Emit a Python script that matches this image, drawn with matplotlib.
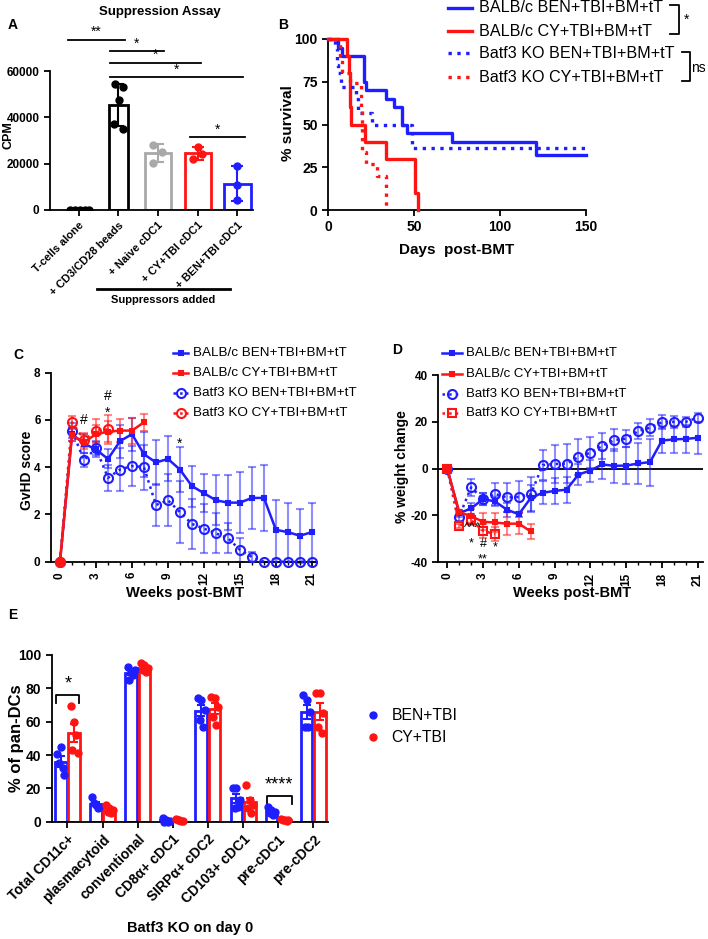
import numpy as np
import matplotlib
matplotlib.use('Agg')
import matplotlib.pyplot as plt
from matplotlib.lines import Line2D

plt.rcParams['font.family'] = ['Liberation Sans', 'DejaVu Sans']
plt.rcParams['font.weight'] = 'bold'
plt.rcParams['axes.unicode_minus'] = False
plt.rcParams['axes.linewidth'] = 1.3
plt.rcParams['xtick.major.width'] = 1.3
plt.rcParams['ytick.major.width'] = 1.3
plt.rcParams['xtick.major.size'] = 4
plt.rcParams['ytick.major.size'] = 4

BLUE = '#1e1eff'
RED = '#ff1414'
GRAY = '#a9a9a9'

# A: suppression assay (mean +/- SD)
supp_labels = ['T-cells alone', '+ CD3/CD28 beads', '+ Naive cDC1',
               '+ CY+TBI cDC1', '+ BEN+TBI cDC1']
supp_cpm = [[180, 150, 120, 160, 140],
            [54500, 53000, 47500, 37000, 35000],
            [28000, 25200, 20500],
            [27200, 24000, 22000],
            [19000, 11000, 4200]]

# B: survival (Kaplan-Meier steps)
days_balbc_ben = [0, 6, 8, 21, 22, 33.5, 38.5, 43, 46, 72, 121, 150]
surv_balbc_ben = [100, 95, 90, 75, 70, 65, 60, 50, 45, 40, 32, 32]
days_balbc_cy = [0, 11, 12, 13, 13.6, 21.4, 34, 50.6, 52.6]
surv_balbc_cy = [100, 90, 80, 60, 50, 40, 30, 10, 0]
days_batf3_ben = [0, 4.3, 5, 6, 7.4, 16, 17.5, 25.7, 49, 150]
surv_batf3_ben = [100, 95, 85, 80, 72, 65, 57, 50, 36, 36]
days_batf3_cy = [0, 7, 8, 13, 19, 19.5, 20, 22, 28.6, 34]
surv_batf3_cy = [100, 90, 80, 74, 60, 47, 34, 27, 20, 0]

# C: GvHD score (mean +/- SEM)
weeks = list(range(22))
gvhd_balbc_ben = [0, 5.4, 5.0, 4.75, 4.35, 5.1, 5.4, 4.55, 4.2, 4.35, 3.9, 3.2,
                  2.9, 2.6, 2.5, 2.5, 2.7, 2.7, 1.35, 1.25, 1.1, 1.25]
gvhd_balbc_ben_err = [0, 0.3, 0.4, 0.3, 0.4, 0.7, 0.7, 0.95, 0.95, 0.95, 0.97, 0.87,
                      0.8, 1.05, 1.15, 1.3, 1.3, 1.4, 1.25, 1.25, 1.15, 1.25]
gvhd_batf3_ben = [0, 5.55, 4.3, 4.8, 3.55, 3.9, 4.05, 4.0, 2.4, 2.6, 2.1, 1.6,
                  1.4, 1.2, 1.0, 0.5, 0.2, 0, 0, 0, 0, 0]
gvhd_batf3_ben_err = [0, 0.3, 0.3, 0.3, 0.55, 0.9, 0.85, 0.95, 0.9, 1.1, 1.3, 1.05,
                      1.05, 0.85, 0.65, 0.5, 0.2, 0, 0, 0, 0, 0]
gvhd_balbc_cy = [0, 5.35, 5.05, 5.4, 5.5, 5.55, 5.55, 5.9]
gvhd_balbc_cy_err = [0, 0.25, 0.3, 0.4, 0.45, 0.5, 0.55, 0.35]
gvhd_batf3_cy = [0, 5.9, 5.15, 5.55, 5.6]
gvhd_batf3_cy_err = [0, 0.25, 0.3, 0.5, 0.6]

# D: % weight change (mean +/- SEM)
wt_balbc_ben = [0, -19, -17, -13, -14, -17.5, -19.5, -12.5, -10.3, -9.5, -9, -2.5,
                -0.8, 1.8, 1.2, 1.3, 2.2, 2.8, 12, 12.5, 12.7, 13.2]
wt_balbc_ben_err = [0, 1.5, 2.5, 2.5, 2, 3, 1, 5.5, 5, 5.5, 5.5, 4.6,
                    4.7, 6.3, 7.2, 7.8, 8.7, 10, 5.5, 5.7, 6, 6.9]
wt_batf3_ben = [0, -20.5, -8, -13, -10.8, -12.3, -12.1, -11, 1.5, 2, 2.1, 5,
                6.8, 9.7, 12.2, 12.8, 16, 17.5, 19.8, 20, 20, 21.8]
wt_batf3_ben_err = [0, 2, 3.5, 2.5, 4.8, 6.3, 7, 7.5, 6.5, 8, 8.4, 7.5,
                    6.7, 5.5, 4.8, 3.7, 3.5, 3.5, 3, 2.5, 2, 1.9]
wt_balbc_cy = [0, -18.5, -20.3, -22.7, -23, -23.5, -23.5, -26.8]
wt_balbc_cy_err = [0, 1, 3, 3.7, 4, 5, 4.5, 3.3]
wt_batf3_cy = [0, -24.5, -22, -26.5, -28]
wt_batf3_cy_err = [0, 1, 2, 3, 3]

# E: DC subsets in Batf3 KO on day 0 (mean +/- SEM)
dc_subsets = ['Total CD11c+', 'plasmacytoid', 'conventional', 'CD8α+ cDC1',
              'SIRPα+ cDC2', 'CD103+ cDC1', 'pre-cDC1', 'pre-cDC2']
ben_tbi_pct = [[40.5, 45, 28, 35, 32], [15, 10, 9, 11, 8], [93, 90, 91, 85, 88],
               [2.5, 1, 0.5, 0, 0], [74.5, 73, 67, 61, 57], [20.5, 20.5, 13, 8, 9],
               [9, 7, 6, 5, 4], [76, 73, 66, 57, 57]]
cy_tbi_pct = [[69.5, 60, 41, 43, 52], [10, 8, 7, 6, 5], [95, 94, 92, 91, 90],
              [1.5, 1, 0.5, 0.8, 0.2], [75, 74, 69, 63, 58], [22, 13, 10, 8, 5],
              [1.5, 1, 0.8, 1.2, 0.5], [77.5, 77.5, 65, 57, 53]]

legend_series = ['BALB/c BEN+TBI+BM+tT', 'BALB/c CY+TBI+BM+tT',
                 'Batf3 KO BEN+TBI+BM+tT', 'Batf3 KO CY+TBI+BM+tT']

W, H = 708, 939
fig = plt.figure(figsize=(W / 100, H / 100), dpi=100)


def fx(px):
    return px / W


def fy(py):
    return 1 - py / H


def add_ax(x0, y0, x1, y1):
    return fig.add_axes([fx(x0), fy(y1), (x1 - x0) / W, (y1 - y0) / H])


def ftext(x, y, s, **kw):
    kw.setdefault('ha', 'center')
    kw.setdefault('va', 'center')
    return fig.text(fx(x), fy(y), s, **kw)


def fline(xs, ys, **kw):
    kw.setdefault('color', 'black')
    kw.setdefault('lw', 1.3)
    fig.add_artist(Line2D([fx(v) for v in xs], [fy(v) for v in ys], **kw))


def clean(ax, size):
    ax.spines['top'].set_visible(False)
    ax.spines['right'].set_visible(False)
    ax.tick_params(labelsize=size, direction='out')


# ---------------- A
axA = add_ax(50, 71, 253, 210)
supp_colors = ['black', 'black', GRAY, RED, BLUE]
bar_w = [0.6, 0.48, 0.68, 0.66, 0.68]
dot_off = [[-0.23, -0.1, 0.02, 0.15, 0.25], [-0.1, 0.12, 0.01, -0.11, 0.12],
           [-0.13, 0.1, -0.13], [0.0, 0.1, -0.12], [0, 0, 0]]
for i, pts in enumerate(supp_cpm):
    m = np.mean(pts)
    sd = np.std(pts, ddof=1)
    c = supp_colors[i]
    axA.bar(i, m, width=bar_w[i], facecolor='white', edgecolor=c, lw=2, zorder=2)
    axA.errorbar(i, m, yerr=sd, fmt='none', ecolor=c, elinewidth=1.5,
                 capsize=4, capthick=1.5, zorder=3)
    axA.plot(i + np.array(dot_off[i]), pts, 'o', color=c, ms=5, zorder=4)
axA.set_xlim(-0.73, 4.4)
axA.set_ylim(0, 60000)
axA.set_yticks([0, 20000, 40000, 60000])
axA.set_xticks(range(len(supp_labels)))
axA.set_xticklabels(supp_labels, rotation=45, ha='right', rotation_mode='anchor')
clean(axA, 8)
axA.tick_params(axis='y', labelsize=8.5)
for x0, x1, y, s in [(-0.28, 1.16, 73400, '**'), (0.78, 2.15, 68600, '*'),
                     (0.78, 3.09, 63500, '*'), (0.78, 4.15, 57400, '*'),
                     (2.81, 4.2, 31500, '*')]:
    axA.plot([x0, x1], [y, y], color='black', lw=1.3, clip_on=False)
    axA.text((x0 + x1) / 2, y + 300, s, ha='center', va='bottom', fontsize=10,
             weight='normal')
fline([97, 230], [289, 289], lw=2)
ftext(163, 300, 'Suppressors added', fontsize=8)
ftext(160, 12, 'Suppression Assay', fontsize=9.5)
ftext(8, 135, 'CPM', fontsize=9, rotation=90)
ftext(13, 25, 'A', fontsize=10)

# ---------------- B
axB = add_ax(328, 39, 586, 210)
surv_sets = [(days_balbc_ben, surv_balbc_ben, BLUE, '-'),
             (days_balbc_cy, surv_balbc_cy, RED, '-'),
             (days_batf3_ben, surv_batf3_ben, BLUE, ':'),
             (days_batf3_cy, surv_batf3_cy, RED, ':')]
for d, s, c, ls in surv_sets:
    axB.step(d, s, where='post', color=c, ls=ls, lw=2.4, clip_on=False, zorder=3)
axB.set_xlim(0, 150)
axB.set_ylim(0, 100)
axB.set_xticks([0, 50, 100, 150])
axB.set_yticks([0, 25, 50, 75, 100])
clean(axB, 10)
ftext(288, 123, '% survival', fontsize=11, rotation=90)
ftext(457, 250, 'Days  post-BMT', fontsize=11)
ftext(283, 25, 'B', fontsize=10)
for k, (d, s, c, ls) in enumerate(surv_sets):
    yy = [8, 31, 53, 77][k]
    fline([448, 472], [yy, yy], color=c, ls=ls, lw=2.4)
    ftext(479, yy, legend_series[k], ha='left', fontsize=11.6, weight='normal')
fline([670, 679, 679, 670], [5, 5, 34, 34])
ftext(687, 20, '*', fontsize=10, weight='normal')
fline([682, 690, 690, 682], [52, 52, 81, 81])
ftext(698, 68, 'ns', fontsize=10, weight='normal')


# ---------------- C and D
def time_panel(ax, series, ylim, yticks):
    for vals, err, c, ls, mk, ms, filled in series:
        x = weeks[:len(vals)]
        ax.errorbar(x, vals, yerr=err, fmt='none', ecolor=c, alpha=0.5,
                    elinewidth=1.5, capsize=3, capthick=1.5, zorder=2, clip_on=False)
        ax.plot(x, vals, color=c, ls=ls, lw=1.8, marker=mk, ms=ms,
                mfc=(c if filled else 'none'), mew=1.5, zorder=3, clip_on=False)
    ax.set_xlim(-0.75, 21.4)
    ax.set_ylim(*ylim)
    ax.set_yticks(yticks)
    ax.set_xticks(range(0, 22, 3))
    ax.set_xticks(range(22), minor=True)
    ax.tick_params(axis='x', which='minor', length=2, width=1)
    ax.tick_params(axis='x', rotation=90)
    clean(ax, 8.5)


def time_legend(x0, x1, xt, rows, series, size):
    for k, (vals, err, c, ls, mk, ms, filled) in enumerate(series):
        yy = rows[k]
        fig.add_artist(Line2D([fx(x0), fx((x0 + x1) / 2), fx(x1)], [fy(yy)] * 3,
                              color=c, ls=ls, lw=1.8, marker=mk, ms=ms, markevery=[1],
                              mfc=(c if filled else 'none'), mew=1.5))
        ftext(xt, yy, legend_series[k], ha='left', fontsize=size, weight='normal')


axC = add_ax(51, 372.7, 316.7, 561.7)
c_series = [(gvhd_balbc_ben, gvhd_balbc_ben_err, BLUE, '-', 's', 3.5, True),
            (gvhd_balbc_cy, gvhd_balbc_cy_err, RED, '-', 's', 3.5, True),
            (gvhd_batf3_ben, gvhd_batf3_ben_err, BLUE, ':', 'o', 6.5, False),
            (gvhd_batf3_cy, gvhd_batf3_cy_err, RED, ':', 'o', 6.5, False)]
time_panel(axC, [c_series[0], c_series[2], c_series[3], c_series[1]], (0, 8), [0, 2, 4, 6, 8])
axC.plot(0, 0, 'o', color=RED, ms=6, zorder=5, clip_on=False)
for x, y, s in [(2, 6.0, '#'), (4, 7.0, '#'), (4, 6.3, '*'), (10, 5.0, '*')]:
    axC.text(x, y, s, ha='center', va='center', fontsize=10, weight='normal')
time_legend(173, 188, 193, [353, 373, 393, 413], c_series, 9.7)
ftext(27, 470, 'GvHD score', fontsize=10, rotation=90)
ftext(185, 593, 'Weeks post-BMT', fontsize=10.5)
ftext(18, 355, 'C', fontsize=10)

axD = add_ax(438.3, 375, 702.5, 562.3)
d_series = [(wt_balbc_ben, wt_balbc_ben_err, BLUE, '-', 's', 3.5, True),
            (wt_balbc_cy, wt_balbc_cy_err, RED, '-', 's', 3.5, True),
            (wt_batf3_ben, wt_batf3_ben_err, BLUE, ':', 'o', 6.5, False),
            (wt_batf3_cy, wt_batf3_cy_err, RED, ':', 's', 5.5, False)]
axD.axhline(0, color='black', lw=1.3, zorder=1)
time_panel(axD, [d_series[0], d_series[2], d_series[3], d_series[1]], (-40, 40),
           [-40, -20, 0, 20, 40])
for x, y, s in [(2.1, -25.5, '^^^'), (2, -32, '*'), (3, -32.3, '#'),
                (3, -38.6, '**'), (4, -33.5, '*')]:
    axD.text(x, y, s, ha='center', va='center', fontsize=9, weight='normal')
time_legend(442, 462, 466, [353, 374, 394, 413], d_series, 9.5)
ftext(402, 467, '% weight change', fontsize=10, rotation=90)
ftext(572, 593, 'Weeks post-BMT', fontsize=10.5)
ftext(397, 350, 'D', fontsize=10)

# ---------------- E
axE = add_ax(51.7, 655, 328, 821.7)
xE = np.arange(len(dc_subsets))
e_off = [-0.1, 0.0, 0.1, -0.05, 0.05]
for pts_list, c, off in [(ben_tbi_pct, BLUE, -0.19), (cy_tbi_pct, RED, 0.19)]:
    means = [np.mean(p) for p in pts_list]
    sems = [np.std(p, ddof=1) / np.sqrt(len(p)) for p in pts_list]
    axE.bar(xE + off, means, width=0.33, facecolor='white', edgecolor=c, lw=2, zorder=2)
    axE.errorbar(xE + off, means, yerr=sems, fmt='none', ecolor=c, elinewidth=1.5,
                 capsize=3, capthick=1.5, zorder=3)
    for i, p in enumerate(pts_list):
        axE.plot(xE[i] + off + np.array(e_off[:len(p)]), p, 'o', color=c, ms=5,
                 zorder=4, clip_on=False)
axE.set_xlim(-0.45, 7.42)
axE.set_ylim(0, 100)
axE.set_yticks([0, 20, 40, 60, 80, 100])
axE.set_xticks(xE)
axE.set_xticklabels(dc_subsets, rotation=45, ha='right', rotation_mode='anchor', fontsize=9)
clean(axE, 10)
for x0, x1, y, s in [(-0.32, 0.34, 76, '*'), (5.67, 6.39, 15.4, '****')]:
    axE.plot([x0, x0, x1, x1], [y - 4.5, y, y, y - 4.5], color='black', lw=1.3)
    axE.text((x0 + x1) / 2, y + 1.5, s, ha='center', va='bottom', fontsize=13,
             weight='normal')
for k, (lab, c) in enumerate([('BEN+TBI', BLUE), ('CY+TBI', RED)]):
    yy = [715, 737][k]
    fig.add_artist(Line2D([fx(372.7)], [fy(yy)], marker='o', color=c, ms=5, ls='none'))
    ftext(391.7, yy, lab, ha='left', fontsize=11.3, weight='normal')
ftext(17, 738, '% of pan-DCs', fontsize=12, rotation=90)
ftext(190, 928, 'Batf3 KO on day 0', fontsize=10.5)
ftext(13, 615, 'E', fontsize=10)

fig.savefig('out.png', dpi=100)
